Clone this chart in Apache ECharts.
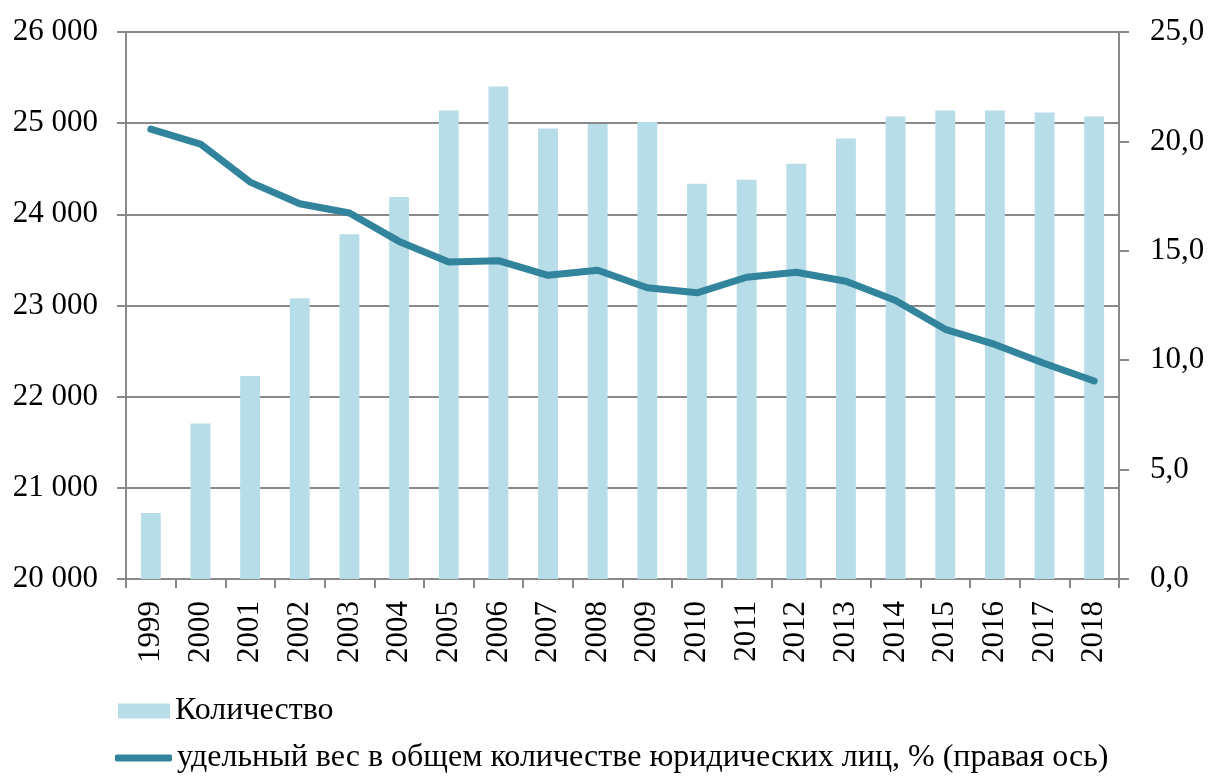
<!DOCTYPE html>
<html>
<head>
<meta charset="utf-8">
<script src="https://cdn.jsdelivr.net/npm/echarts@6/dist/echarts.min.js"></script>
<style>
html,body{margin:0;padding:0;background:#fff;}
#chart{width:1210px;height:776px;}
</style>
</head>
<body>
<div id="chart"></div>
<script>
const years = ['1999','2000','2001','2002','2003','2004','2005','2006','2007','2008','2009','2010','2011','2012','2013','2014','2015','2016','2017','2018'];
const counts = [20723, 21705, 22226, 23080, 23781, 24190, 25139, 25401, 24942, 24990, 25012, 24336, 24380, 24555, 24832, 25073, 25139, 25139, 25117, 25073];
const shares = [20.56, 19.88, 18.14, 17.15, 16.73, 15.43, 14.49, 14.55, 13.88, 14.11, 13.31, 13.08, 13.79, 14.02, 13.61, 12.73, 11.41, 10.72, 9.85, 9.05];
const barName = 'Количество';
const lineName = 'удельный вес в общем количестве юридических лиц, % (правая ось)';

const font = '"Liberation Serif", "Times New Roman", serif';
const axisColor = '#898989';
const axisFont = 31;

const chart = echarts.init(document.getElementById('chart'), null, {renderer: 'canvas'});
chart.setOption({
  animation: false,
  backgroundColor: '#fff',
  textStyle: {fontFamily: font, color: '#000'},
  grid: {left: 126, right: 91, top: 32, bottom: 197, containLabel: false},
  legend: [
    {
      data: [{name: barName, icon: 'rect'}],
      left: 118, top: 695, orient: 'vertical', padding: 0,
      itemWidth: 52, itemHeight: 15, itemGap: 10,
      textStyle: {fontFamily: font, fontSize: 32, color: '#000', padding: [8, 0, 0, 0]},
      selectedMode: false
    },
    {
      data: [{name: lineName, icon: 'roundRect'}],
      left: 115, top: 742, orient: 'vertical', padding: 0,
      itemWidth: 57, itemHeight: 7,
      textStyle: {fontFamily: font, fontSize: 32, color: '#000', padding: [14, 0, 0, 0]},
      selectedMode: false
    }
  ],
  xAxis: {
    type: 'category',
    data: years,
    boundaryGap: true,
    axisLine: {show: true, lineStyle: {color: axisColor, width: 2}},
    axisTick: {show: true, length: 9, lineStyle: {color: axisColor, width: 2}},
    axisLabel: {rotate: 90, margin: 22, fontFamily: font, fontSize: axisFont, color: '#000', interval: 0}
  },
  yAxis: [
    {
      type: 'value', min: 20000, max: 26000, interval: 1000,
      position: 'left',
      axisLine: {show: true, lineStyle: {color: axisColor, width: 2}},
      axisTick: {show: true, length: 9, lineStyle: {color: axisColor, width: 2}},
      splitLine: {show: true, lineStyle: {color: axisColor, width: 2}},
      axisLabel: {
        margin: 28, fontFamily: font, fontSize: axisFont, color: '#000',
        formatter: v => String(v).replace(/\B(?=(\d{3})+(?!\d))/g, ' ')
      }
    },
    {
      type: 'value', min: 0, max: 25, interval: 5,
      position: 'right',
      axisLine: {show: true, lineStyle: {color: axisColor, width: 2}},
      axisTick: {show: true, length: 10, lineStyle: {color: axisColor, width: 2}},
      splitLine: {show: false},
      axisLabel: {
        margin: 31, fontFamily: font, fontSize: axisFont, color: '#000',
        formatter: v => v.toFixed(1).replace('.', ',')
      }
    }
  ],
  series: [
    {
      name: barName, type: 'bar', data: counts, yAxisIndex: 0,
      barWidth: '40%',
      itemStyle: {color: '#B7DDE8'}
    },
    {
      name: lineName, type: 'line', data: shares, yAxisIndex: 1,
      showSymbol: false, symbol: 'none', smooth: false,
      lineStyle: {color: '#31849B', width: 7, cap: 'round', join: 'round'},
      itemStyle: {color: '#31849B'}
    }
  ]
});
</script>
</body>
</html>
